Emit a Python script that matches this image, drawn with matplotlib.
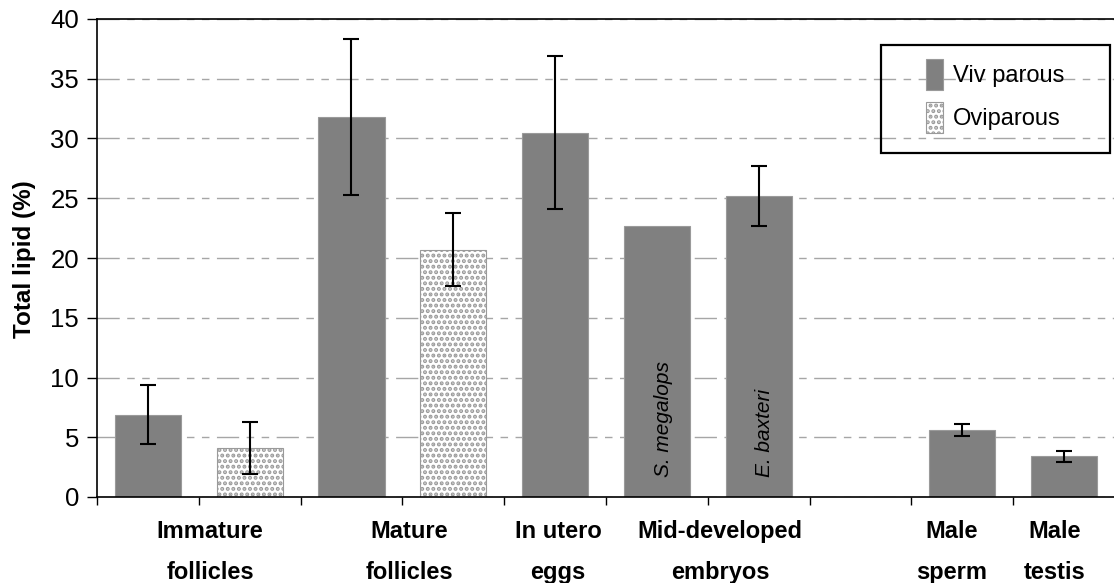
import numpy as np
import matplotlib.pyplot as plt
from matplotlib.patches import Rectangle

plt.rcParams['font.family'] = ['Liberation Sans', 'DejaVu Sans']
plt.rcParams['hatch.color'] = '#7a7a7a'
plt.rcParams['hatch.linewidth'] = 2.0

# slot index of every bar along the x axis (slot 7 stays empty)
viv_slots = [0, 2, 4, 5, 6, 8, 9]
viv_vals = [6.9, 31.8, 30.5, 22.7, 25.2, 5.6, 3.4]
viv_err = [2.5, 6.5, 6.4, np.nan, 2.5, 0.5, 0.45]

ovi_slots = [1, 3]
ovi_vals = [4.1, 20.7]
ovi_err = [2.2, 3.05]

groups = ["Immature\nfollicles", "Mature\nfollicles", "In utero\neggs",
          "Mid-developed\nembryos", "Male\nsperm", "Male\ntestis"]
group_x = [1.11, 3.07, 4.53, 6.12, 8.40, 9.41]

species = ["S. megalops", "E. baxteri"]
species_slots = [5, 6]

fig = plt.figure(figsize=(11.14, 5.83), dpi=100)
ax = fig.add_axes([97/1114, 86/583, 1018/1114, 478/583])

w = 0.65
vx = np.array(viv_slots) + 0.5
ox = np.array(ovi_slots) + 0.5
ax.bar(vx, viv_vals, w, color='#808080', edgecolor='#9a9a9a', lw=0.8,
       label='Viv parous', zorder=2)
ax.bar(ox, ovi_vals, w, color='white', edgecolor='#9a9a9a', lw=0.8,
       hatch='...', label='Oviparous', zorder=2)

ve = np.array(viv_err)
m = ~np.isnan(ve)
ax.errorbar(vx[m], np.array(viv_vals)[m], yerr=ve[m], fmt='none', ecolor='black',
            elinewidth=1.5, capsize=5.5, capthick=1.5, zorder=3)
ax.errorbar(ox, ovi_vals, yerr=ovi_err, fmt='none', ecolor='black',
            elinewidth=1.5, capsize=5.5, capthick=1.5, zorder=3)

for name, s in zip(species, species_slots):
    ax.text(s + 0.56, 1.7, name, rotation=90, style='italic', fontsize=15,
            ha='center', va='bottom', zorder=4)

ax.set_xlim(0, 10)
ax.set_ylim(0, 40)
ax.set_yticks(range(0, 41, 5))
ax.set_xticks(range(11))
ax.set_xticklabels([])
ax.tick_params(axis='x', length=6, width=1)
ax.tick_params(axis='y', length=7, width=1, labelsize=18.5, pad=6)
ax.yaxis.grid(True, color='#a6a6a6', lw=1.0,
              linestyle=(0, (16, 5.4, 5.4, 5.4, 5.4, 5.4)))
ax.set_axisbelow(True)
for sp in ax.spines.values():
    sp.set_color('black')
    sp.set_linewidth(1.2)

for lab, x in zip(groups, group_x):
    ax.text(x, -0.049, lab, transform=ax.get_xaxis_transform(), ha='center',
            va='top', fontsize=17, fontweight='bold', linespacing=2.0)

fig.text(25/1114, 0.556, "Total lipid (%)", rotation=90, ha='center',
         va='center', fontsize=17.5, fontweight='bold')

# legend box
fig.add_artist(Rectangle((881/1114, 430/583), 229/1114, 108/583,
                         transform=fig.transFigure, fill=False,
                         ec='black', lw=1.6))
ax.legend(loc='center', bbox_to_anchor=(995/1114, 487/583),
          bbox_transform=fig.transFigure, frameon=False, fontsize=17,
          handlelength=0.75, handleheight=1.6, handletextpad=0.4,
          labelspacing=0.55)

fig.savefig('out.png', dpi=100)
